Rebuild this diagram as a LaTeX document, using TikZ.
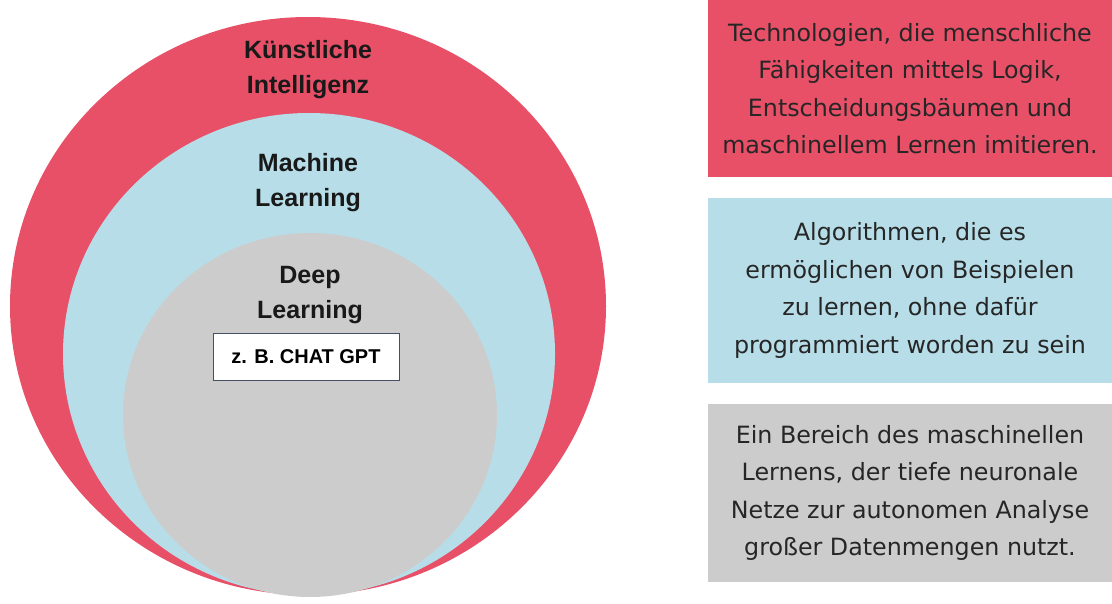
\documentclass[tikz,border=0pt]{standalone}
\usepackage{fontspec}
\setmainfont{Liberation Sans}
\newfontfamily\boxfont{DejaVu Sans}
\usetikzlibrary{positioning}
\definecolor{kired}{RGB}{232,80,104}
\definecolor{mlblue}{RGB}{183,222,232}
\definecolor{dlgrey}{RGB}{204,204,204}
\definecolor{framegrey}{RGB}{68,80,100}

\begin{document}
\begin{tikzpicture}[x=0.025cm, y=-0.025cm]
	\tikzset{layer/.style={font=\fontsize{17.8}{24.9}\selectfont\bfseries, align=center, text=black!90},
		info/.style={font=\boxfont\fontsize{16.9}{26.6}\selectfont, align=center, text=black!85, minimum width=10.1cm, inner sep=0pt}}
	\useasboundingbox (0,0) rectangle (1112,604);
	\fill[kired] (308,306) ellipse [x radius=298, y radius=289];
	\fill[mlblue] (309,354) ellipse [x radius=246, y radius=241];
	\fill[dlgrey] (310,415) ellipse [x radius=187, y radius=182];
	\node[layer] (ki) at (308,70) {Künstliche\\Intelligenz};
	\node[layer] (ml) at (308,183) {Machine\\Learning};
	\node[layer] (dl) at (310,295) {Deep\\Learning};
	\node[draw=framegrey, fill=white, font=\fontsize{14.2}{17}\selectfont\bfseries, minimum width=4.65cm, minimum height=1.175cm, inner sep=0pt] (gpt) at (306,356.5) {z. B. CHAT GPT};
	\node[info, fill=kired, minimum height=4.425cm] (kitext) at (910,88.5) {Technologien, die menschliche\\Fähigkeiten mittels Logik,\\Entscheidungsbäumen und\\maschinellem Lernen imitieren.};
	\node[info, fill=mlblue, minimum height=4.625cm] (mltext) at (910,290.5) {Algorithmen, die es\\ermöglichen von Beispielen\\zu lernen, ohne dafür\\programmiert worden zu sein};
	\node[info, fill=dlgrey, minimum height=4.45cm] (dltext) at (910,493) {Ein Bereich des maschinellen\\Lernens, der tiefe neuronale\\Netze zur autonomen Analyse\\großer Datenmengen nutzt.};
\end{tikzpicture}
\end{document}
